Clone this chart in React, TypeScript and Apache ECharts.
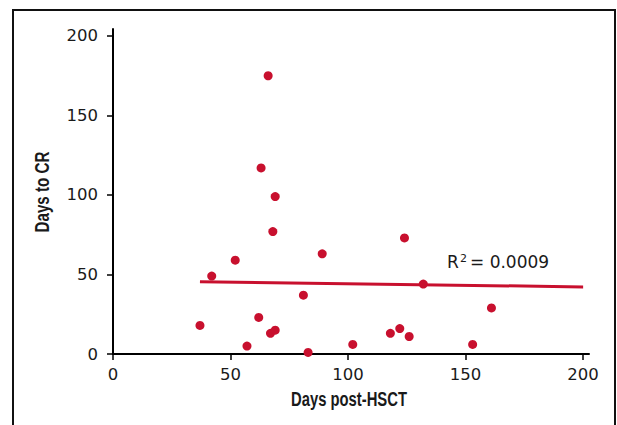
import React, { useEffect, useRef } from "react";
import * as echarts from "echarts";

const daysPostHSCT = [37, 42, 52, 57, 62, 63, 66, 67, 69, 68, 69, 81, 83, 89, 102, 118, 122, 124, 126, 132, 153, 161];
const daysToCR = [18, 49, 59, 5, 23, 117, 175, 13, 15, 77, 99, 37, 1, 63, 6, 13, 16, 73, 11, 44, 6, 29];
const trendX = [37, 200];
const trendY = [45.5, 42.2];
const tickValues = [0, 50, 100, 150, 200];
const xAxisName = "Days post-HSCT";
const yAxisName = "Days to CR";
const r2Base = "R";
const r2Sup = "2";
const r2Rest = "= 0.0009";

const RED = "#c8102e";
const TXT = "#1a1a1a";
const NUM_FONT = "DejaVu Sans, Verdana, sans-serif";
const NAME_FONT = "Liberation Sans, Arial, sans-serif";

export default function App() {
  const ref = useRef<HTMLDivElement>(null);
  useEffect(() => {
    if (!ref.current) return;
    const chart = echarts.init(ref.current, undefined, { renderer: "svg" });
    const points = daysPostHSCT.map((x, i) => [x, daysToCR[i]]);
    const trend = trendX.map((x, i) => [x, trendY[i]]);
    const tickFont = { fontFamily: NUM_FONT, fontSize: 16.5, color: TXT };
    chart.setOption({
      animation: false,
      backgroundColor: "#ffffff",
      grid: { left: 113, right: 28, top: 29, bottom: 71, containLabel: false },
      xAxis: {
        type: "value",
        min: 0,
        max: 202.5,
        interval: 50,
        splitLine: { show: false },
        axisLine: { show: true, onZero: false, lineStyle: { color: "#000", width: 2 } },
        axisTick: { show: true, length: 6, customValues: tickValues, lineStyle: { color: "#000", width: 1.5 } },
        axisLabel: { ...tickFont, margin: 12, customValues: tickValues },
      },
      yAxis: {
        type: "value",
        min: 0,
        max: 204.4,
        interval: 50,
        splitLine: { show: false },
        axisLine: { show: true, onZero: false, lineStyle: { color: "#000", width: 2 } },
        axisTick: { show: true, length: 6, customValues: tickValues, lineStyle: { color: "#000", width: 1.5 } },
        axisLabel: { ...tickFont, margin: 15, customValues: tickValues },
      },
      series: [
        {
          type: "line",
          data: trend,
          symbol: "none",
          lineStyle: { color: RED, width: 3 },
          z: 2,
        },
        {
          type: "scatter",
          data: points,
          symbol: "circle",
          symbolSize: 9,
          itemStyle: { color: RED, opacity: 1 },
          z: 3,
        },
      ],
      graphic: [
        {
          type: "rect",
          shape: { x: 13, y: 10, width: 602, height: 440 },
          style: { fill: "none", stroke: "#111", lineWidth: 2 },
          silent: true,
        },
        {
          type: "text",
          x: 349,
          y: 399,
          scaleX: 0.8,
          scaleY: 1.1,
          originX: 0,
          originY: 0,
          style: {
            text: xAxisName,
            fontFamily: NAME_FONT,
            fontWeight: "bold",
            fontSize: 18.5,
            fill: TXT,
            align: "center",
            verticalAlign: "middle",
          },
        },
        {
          type: "text",
          x: 42,
          y: 192,
          rotation: Math.PI / 2,
          scaleX: 0.82,
          scaleY: 1.1,
          originX: 0,
          originY: 0,
          style: {
            text: yAxisName,
            fontFamily: NAME_FONT,
            fontWeight: "bold",
            fontSize: 18.5,
            fill: TXT,
            align: "center",
            verticalAlign: "middle",
          },
        },
        {
          type: "text",
          x: 447,
          y: 262,
          style: { text: r2Base, fontFamily: NUM_FONT, fontSize: 17, fill: TXT, align: "left", verticalAlign: "middle" },
        },
        {
          type: "text",
          x: 460,
          y: 253,
          style: { text: r2Sup, fontFamily: NUM_FONT, fontSize: 11, fill: TXT, align: "left", verticalAlign: "top" },
        },
        {
          type: "text",
          x: 470,
          y: 262,
          style: { text: r2Rest, fontFamily: NUM_FONT, fontSize: 17, fill: TXT, align: "left", verticalAlign: "middle" },
        },
      ],
    });
    return () => chart.dispose();
  }, []);
  return (
    <div
      ref={ref}
      style={{ position: "fixed", left: 0, top: 0, width: 617, height: 425 }}
    />
  );
}
